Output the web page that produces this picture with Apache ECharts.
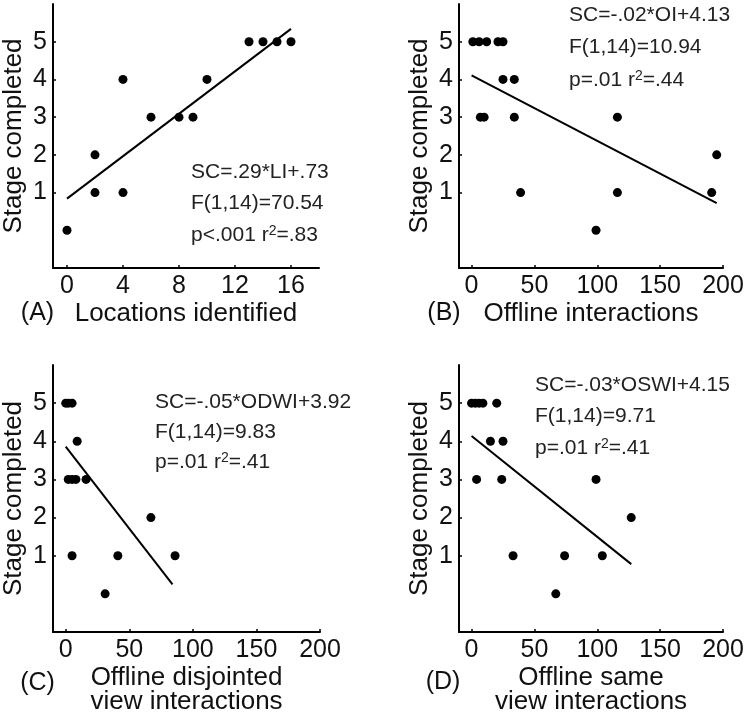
<!DOCTYPE html>
<html>
<head>
<meta charset="utf-8">
<script src="https://cdn.jsdelivr.net/npm/echarts@6/dist/echarts.min.js"></script>
<style>
html,body{margin:0;padding:0;background:#fff;}
#main{width:750px;height:719px;}
</style>
</head>
<body>
<div id="main"></div>
<script>
// ---- data ----
const stageTicks = [1, 2, 3, 4, 5];
const ticksA = [0, 4, 8, 12, 16];
const ticksBCD = [0, 50, 100, 150, 200];

// (A) Locations identified
const aX = [0, 2, 2, 4, 4, 6, 8, 9, 10, 13, 14, 15, 16];
const aY = [0, 1, 2, 1, 4, 3, 3, 3, 4, 5, 5, 5, 5];
const aFitX = [0, 16];
const aFitY = [0.84, 5.34];

// (B) Offline interactions
const bX = [1, 6, 12, 21, 25, 25, 34, 7, 10, 34, 116, 195, 39, 116, 191, 99];
const bY = [5, 5, 5, 5, 5, 4, 4, 3, 3, 3, 3, 2, 1, 1, 1, 0];
const bFitX = [0, 195];
const bFitY = [4.11, 0.72];

// (C) Offline disjointed view interactions
const cX = [0, 2, 5, 9, 2, 5, 8, 16, 67, 5, 41, 86, 31];
const cY = [5, 5, 5, 4, 3, 3, 3, 3, 2, 1, 1, 1, 0];
const cFitX = [0, 84];
const cFitY = [3.86, 0.25];

// (D) Offline same view interactions
const dX = [0, 3, 6, 9, 20, 15, 25, 4, 24, 99, 127, 33, 74, 104, 67];
const dY = [5, 5, 5, 5, 5, 4, 4, 3, 3, 3, 2, 1, 1, 1, 0];
const dFitX = [0, 127];
const dFitY = [4.14, 0.78];

const xNames = ['Locations identified', 'Offline interactions',
  'Offline disjointed\nview interactions', 'Offline same\nview interactions'];
const yName = 'Stage completed';
const panelTags = ['(A)', '(B)', '(C)', '(D)'];
const statLines = [
  ['SC=.29*LI+.73', 'F(1,14)=70.54', 'p<.001 r{s|2}=.83'],
  ['SC=-.02*OI+4.13', 'F(1,14)=10.94', 'p=.01 r{s|2}=.44'],
  ['SC=-.05*ODWI+3.92', 'F(1,14)=9.83', 'p=.01 r{s|2}=.41'],
  ['SC=-.03*OSWI+4.15', 'F(1,14)=9.71', 'p=.01 r{s|2}=.41']
];

// ---- layout ----
const FONT = "'Liberation Sans', Arial, Helvetica, sans-serif";
const INK = '#111';
const grids = [
  {left: 53, top: 4, width: 266, height: 264},
  {left: 459, top: 4, width: 264, height: 264},
  {left: 53, top: 365, width: 267, height: 267},
  {left: 459, top: 365, width: 264, height: 267}
];
const xRanges = [[-1, 18], [-10, 200], [-10, 200], [-10, 200]];
const xTicks = [ticksA, ticksBCD, ticksBCD, ticksBCD];

const zip = (xs, ys) => xs.map((x, i) => [x, ys[i]]);
const pts = [zip(aX, aY), zip(bX, bY), zip(cX, cY), zip(dX, dY)];
const fits = [zip(aFitX, aFitY), zip(bFitX, bFitY), zip(cFitX, cFitY), zip(dFitX, dFitY)];

const axisLine = {show: true, onZero: false, lineStyle: {color: '#000', width: 2}};

const option = {
  animation: false,
  backgroundColor: '#fff',
  grid: grids.map(g => Object.assign({outerBoundsMode: 'none', containLabel: false}, g)),
  xAxis: grids.map((g, i) => ({
    type: 'value', gridIndex: i, min: xRanges[i][0], max: xRanges[i][1],
    axisLine: axisLine,
    axisTick: {show: true, inside: true, length: 3, customValues: xTicks[i], lineStyle: {color: '#000', width: 1.5}},
    axisLabel: {customValues: xTicks[i], margin: 6, fontSize: 25, fontFamily: FONT, color: INK},
    splitLine: {show: false},
    name: xNames[i], nameLocation: 'middle', nameGap: 34, nameMoveOverlap: false,
    nameTextStyle: {fontSize: 26, fontFamily: FONT, color: INK, lineHeight: 24}
  })),
  yAxis: grids.map((g, i) => ({
    type: 'value', gridIndex: i, min: -1, max: 6,
    axisLine: axisLine,
    axisTick: {show: true, inside: true, length: 3, customValues: stageTicks, lineStyle: {color: '#000', width: 1.5}},
    axisLabel: {customValues: stageTicks, margin: 6, fontSize: 25, fontFamily: FONT, color: INK},
    splitLine: {show: false},
    name: yName, nameLocation: 'middle', nameGap: 26, nameMoveOverlap: false,
    nameTextStyle: {fontSize: 26, fontFamily: FONT, color: INK}
  })),
  series: [].concat(
    pts.map((d, i) => ({
      type: 'scatter', xAxisIndex: i, yAxisIndex: i, data: d,
      symbol: 'circle', symbolSize: 9, itemStyle: {color: '#000', opacity: 1}, z: 3
    })),
    fits.map((d, i) => ({
      type: 'line', xAxisIndex: i, yAxisIndex: i, data: d,
      showSymbol: false, symbol: 'none', lineStyle: {color: '#000', width: 2}, z: 2
    }))
  ),
  graphic: []
};

// annotation positions (left x, first-line centre y, line step)
const statPos = [[191, 172, 31.5], [569, 15, 32.5], [155, 402, 30], [535, 385, 31.5]];
statLines.forEach((lines, i) => {
  lines.forEach((t, j) => {
    option.graphic.push({
      type: 'text', x: statPos[i][0], y: statPos[i][1] + j * statPos[i][2],
      style: {
        text: t, fill: '#222', fontSize: 21, fontFamily: FONT,
        textAlign: 'left', textVerticalAlign: 'middle', align: 'left', verticalAlign: 'middle',
        rich: {s: {fontSize: 14, fontFamily: FONT, fill: '#222', verticalAlign: 'top', lineHeight: 21}}
      }
    });
  });
});
const tagPos = [[37.5, 313], [444, 313], [37.5, 683], [443, 682]];
panelTags.forEach((t, i) => {
  option.graphic.push({
    type: 'text', x: tagPos[i][0], y: tagPos[i][1],
    style: {text: t, fill: INK, fontSize: 25, fontFamily: FONT,
      textAlign: 'center', textVerticalAlign: 'middle', align: 'center', verticalAlign: 'middle'}
  });
});

const chart = echarts.init(document.getElementById('main'), null, {renderer: 'canvas'});
chart.setOption(option);
</script>
</body>
</html>
